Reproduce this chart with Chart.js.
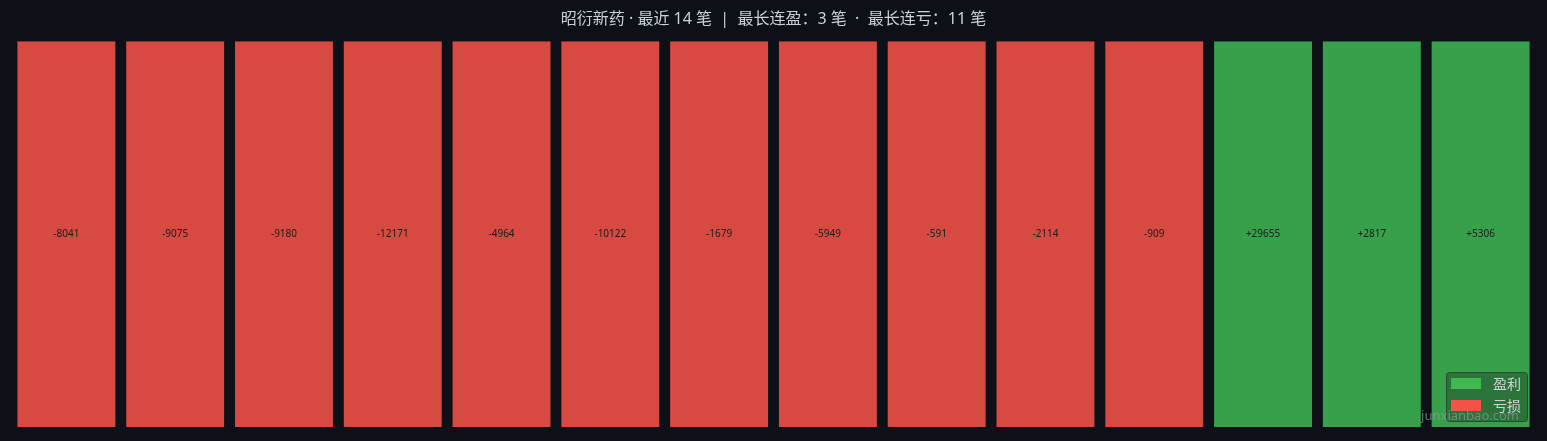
<!DOCTYPE html>
<html>
<head>
<meta charset="utf-8">
<script src="https://cdn.jsdelivr.net/npm/chart.js@4/dist/chart.umd.min.js"></script>
<style>
  html, body { margin: 0; padding: 0; background: #0d1117; }
  #wrap { width: 1547px; height: 441px; position: relative; }
</style>
</head>
<body>
<div id="wrap"><canvas id="chart"></canvas></div>
<script>
const trades = ['1', '2', '3', '4', '5', '6', '7', '8', '9', '10', '11', '12', '13', '14'];
const pnl = [-8041, -9075, -9180, -12171, -4964, -10122, -1679, -5949, -591, -2114, -909, 29655, 2817, 5306];
const cellHeight = [1, 1, 1, 1, 1, 1, 1, 1, 1, 1, 1, 1, 1, 1];
const titleText = '昭衍新药 · 最近 14 笔  |  最长连盈：3 笔  ·  最长连亏：11 笔';
const legendItems = [
  { label: '盈利', color: '#3fb950' },
  { label: '亏损', color: '#f85149' }
];

const winColor = '#37a04a';
const lossColor = '#d64a42';

const labelsPlugin = {
  id: 'cellLabels',
  afterDatasetsDraw(chart) {
    const ctx = chart.ctx;
    const meta = chart.getDatasetMeta(0);
    ctx.save();
    ctx.font = '10px "Noto Sans", "DejaVu Sans", sans-serif';
    ctx.fillStyle = '#1b1b1b';
    ctx.textAlign = 'center';
    ctx.textBaseline = 'middle';
    meta.data.forEach((bar, i) => {
      const v = pnl[i];
      const txt = (v > 0 ? '+' : '') + v;
      ctx.fillText(txt, bar.x, (bar.y + bar.base) / 2);
    });
    ctx.restore();
  },
  afterDraw(chart) {
    const ctx = chart.ctx;
    ctx.save();
    // legend box
    const bx = 1446, by = 372, bw = 81, bh = 49;
    ctx.fillStyle = 'rgba(30, 60, 40, 0.45)';
    ctx.strokeStyle = 'rgba(40, 70, 45, 0.9)';
    ctx.lineWidth = 1;
    ctx.beginPath();
    ctx.roundRect(bx + 0.5, by + 0.5, bw, bh, 3);
    ctx.fill();
    ctx.stroke();
    ctx.font = '14px "Noto Sans CJK SC", sans-serif';
    ctx.textBaseline = 'middle';
    ctx.textAlign = 'left';
    legendItems.forEach((it, i) => {
      const y = by + 11 + i * 22;
      ctx.fillStyle = it.color;
      ctx.fillRect(bx + 5, y - 5, 30, 11);
      ctx.fillStyle = '#d0d4d8';
      ctx.fillText(it.label, bx + 47, y + 1);
    });
    // watermark
    ctx.font = '13px "Noto Sans", sans-serif';
    ctx.fillStyle = 'rgba(150, 155, 160, 0.65)';
    ctx.textAlign = 'right';
    ctx.fillText('junxianbao.com', 1519, 416);
    ctx.restore();
  }
};

new Chart(document.getElementById('chart'), {
  type: 'bar',
  data: {
    labels: trades,
    datasets: [{
      data: cellHeight,
      backgroundColor: pnl.map(v => v >= 0 ? winColor : lossColor),
      borderWidth: 0,
      barPercentage: 0.9,
      categoryPercentage: 1
    }]
  },
  options: {
    responsive: true,
    maintainAspectRatio: false,
    animation: false,
    layout: { padding: { left: 12, right: 12, top: 0, bottom: 14 } },
    plugins: {
      legend: { display: false },
      tooltip: { enabled: false },
      title: {
        display: true,
        text: titleText,
        color: '#c9d1d9',
        font: { size: 16, family: '"Noto Sans", "Noto Sans CJK SC", sans-serif', weight: 'normal' },
        padding: { top: 10, bottom: 12 }
      }
    },
    scales: {
      x: { display: false },
      y: { display: false, min: 0, max: 1 }
    }
  },
  plugins: [labelsPlugin]
});
</script>
</body>
</html>
